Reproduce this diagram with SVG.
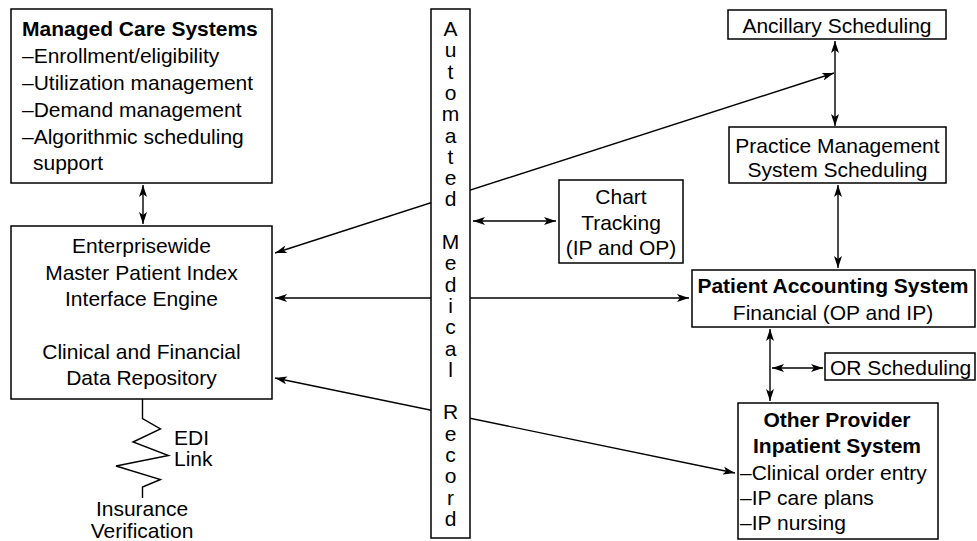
<svg xmlns="http://www.w3.org/2000/svg" width="977" height="541" viewBox="0 0 977 541">
<defs>
<marker id="ah" viewBox="0 0 12 8" refX="12" refY="4" markerWidth="12" markerHeight="8" markerUnits="userSpaceOnUse" orient="auto-start-reverse">
<path d="M0,0 L12,4 L0,8 L3,4 z" fill="#000"/>
</marker>
</defs>
<style>
.box{fill:#fff;stroke:#000;stroke-width:1.5}
.t{font-family:"Liberation Sans",Arial,sans-serif;font-size:21px;fill:#000}
.b{font-weight:bold}
.c{text-anchor:middle}
.ln{stroke:#000;stroke-width:1.4;fill:none}
.a2{marker-start:url(#ah);marker-end:url(#ah)}
.a1{marker-end:url(#ah)}
</style>
<rect width="977" height="541" fill="#fff"/>
<g id="connectors">
<line class="ln a2" x1="143" y1="185" x2="143" y2="224"/>
<line class="ln a2" x1="275" y1="253" x2="834" y2="73"/>
<line class="ln a2" x1="275" y1="298" x2="689" y2="298"/>
<line class="ln a2" x1="275" y1="378" x2="735" y2="473"/>
<line class="ln a2" x1="473" y1="221" x2="556" y2="221"/>
<line class="ln a2" x1="835" y1="41" x2="835" y2="126"/>
<line class="ln a2" x1="838" y1="185" x2="838" y2="268"/>
<line class="ln a2" x1="770" y1="329" x2="770" y2="401"/>
<line class="ln a2" x1="772" y1="368" x2="823" y2="368"/>
<polyline class="ln" points="142.5,399 142.5,418.5 160.5,429 133,442 168.5,455.5 116,466 160.5,479.5 142.5,487 142.5,498"/>
</g>
<g id="managed-care">
<rect class="box" x="11" y="9" width="261" height="174"/>
<text class="t b" x="22" y="36">Managed Care Systems</text>
<text class="t" x="22" y="63">–Enrollment/eligibility</text>
<text class="t" x="22" y="90">–Utilization management</text>
<text class="t" x="22" y="117">–Demand management</text>
<text class="t" x="22" y="144">–Algorithmic scheduling</text>
<text class="t" x="33" y="170">support</text>
</g>
<g id="enterprise">
<rect class="box" x="11" y="226" width="261" height="173"/>
<text class="t c" x="141.5" y="253">Enterprisewide</text>
<text class="t c" x="141.5" y="280">Master Patient Index</text>
<text class="t c" x="141.5" y="306">Interface Engine</text>
<text class="t c" x="141.5" y="359">Clinical and Financial</text>
<text class="t c" x="141.5" y="385">Data Repository</text>
</g>
<g id="edi-link">
<text class="t" x="174" y="445">EDI</text>
<text class="t" x="174" y="466">Link</text>
</g>
<g id="insurance">
<text class="t c" x="142" y="516">Insurance</text>
<text class="t c" x="142" y="538">Verification</text>
</g>
<g id="amr">
<rect class="box" x="431" y="9" width="39" height="529"/>
<text class="t c" x="450.5">
<tspan x="450.5" y="36">A</tspan><tspan x="450.5" y="57.3">u</tspan><tspan x="450.5" y="78.6">t</tspan><tspan x="450.5" y="99.9">o</tspan><tspan x="450.5" y="121.2">m</tspan><tspan x="450.5" y="142.5">a</tspan><tspan x="450.5" y="163.8">t</tspan><tspan x="450.5" y="185.1">e</tspan><tspan x="450.5" y="206.4">d</tspan><tspan x="450.5" y="249">M</tspan><tspan x="450.5" y="270.3">e</tspan><tspan x="450.5" y="291.6">d</tspan><tspan x="450.5" y="312.9">i</tspan><tspan x="450.5" y="334.2">c</tspan><tspan x="450.5" y="355.5">a</tspan><tspan x="450.5" y="376.8">l</tspan><tspan x="450.5" y="419.4">R</tspan><tspan x="450.5" y="440.7">e</tspan><tspan x="450.5" y="462">c</tspan><tspan x="450.5" y="483.3">o</tspan><tspan x="450.5" y="504.6">r</tspan><tspan x="450.5" y="525.9">d</tspan>
</text>
</g>
<g id="chart-tracking">
<rect class="box" x="559" y="180" width="124" height="83"/>
<text class="t c" x="621" y="204">Chart</text>
<text class="t c" x="621" y="230">Tracking</text>
<text class="t c" x="621" y="255">(IP and OP)</text>
</g>
<g id="ancillary">
<rect class="box" x="728" y="10" width="218" height="29"/>
<text class="t c" x="837" y="33">Ancillary Scheduling</text>
</g>
<g id="practice">
<rect class="box" x="729" y="127" width="217" height="56"/>
<text class="t c" x="837.5" y="153">Practice Management</text>
<text class="t c" x="837.5" y="177">System Scheduling</text>
</g>
<g id="patient-accounting">
<rect class="box" x="692" y="270" width="283" height="57"/>
<text class="t b c" x="833" y="293">Patient Accounting System</text>
<text class="t c" x="833" y="320">Financial (OP and IP)</text>
</g>
<g id="or-scheduling">
<rect class="box" x="825" y="353" width="150" height="27"/>
<text class="t" x="830" y="375">OR Scheduling</text>
</g>
<g id="other-provider">
<rect class="box" x="738" y="403" width="200" height="136"/>
<text class="t b c" x="837" y="427">Other Provider</text>
<text class="t b c" x="837" y="453">Inpatient System</text>
<text class="t" x="740" y="480">–Clinical order entry</text>
<text class="t" x="740" y="505">–IP care plans</text>
<text class="t" x="740" y="530">–IP nursing</text>
</g>
</svg>
